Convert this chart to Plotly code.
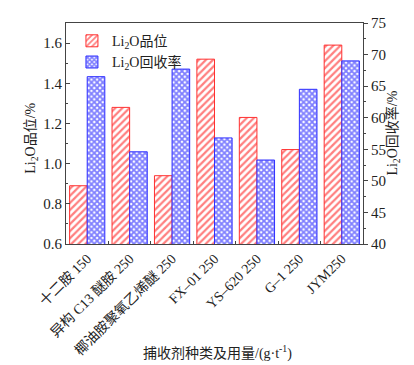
import plotly.graph_objects as go

categories = ["十二胺 150", "异构 C13 醚胺 250", "椰油胺聚氧乙烯醚 250", "FX–01 250",
              "YS–620 250", "G–1 250", "JYM250"]
grade = [0.89, 1.28, 0.94, 1.52, 1.23, 1.07, 1.59]
recovery = [66.5, 54.6, 67.7, 56.8, 53.3, 64.5, 69.0]

FONT = "Liberation Serif, Times New Roman, Noto Sans CJK SC, serif"

fig = go.Figure()
fig.add_trace(go.Bar(
    x=categories, y=grade, name="Li<sub>2</sub>O品位", yaxis="y", offsetgroup="a",
    marker=dict(color="white", line=dict(color="#ff3030", width=1),
                pattern=dict(shape="/", fgcolor="#ff0000", bgcolor="white", size=5, solidity=0.45)),
))
fig.add_trace(go.Bar(
    x=categories, y=recovery, name="Li<sub>2</sub>O回收率", yaxis="y2", offsetgroup="b",
    marker=dict(color="white", line=dict(color="#3030ff", width=1),
                pattern=dict(shape="x", fgcolor="#0000ff", bgcolor="white", size=4, solidity=0.7)),
))

fig.update_layout(
    width=414, height=365,
    margin=dict(l=58, r=59, t=15, b=129),
    paper_bgcolor="white", plot_bgcolor="white",
    font=dict(family=FONT, size=15, color="#222"),
    barmode="group", bargap=0.17, bargroupgap=0,
    showlegend=True,
    legend=dict(x=0.02, y=0.99, xanchor="left", yanchor="top", bgcolor="rgba(0,0,0,0)",
                font=dict(size=14), itemwidth=30, tracegroupgap=0),
    xaxis=dict(showline=True, linecolor="#444", linewidth=1, mirror=True, automargin=False,
               ticks="inside", ticklen=3, tickson="boundaries", tickcolor="#444",
               tickangle=-45, tickfont=dict(size=14)),
    yaxis=dict(range=[0.6, 1.7], dtick=0.2, tickformat=".1f", showline=True, linecolor="#444",
               ticks="inside", ticklen=4, tickcolor="#444", showgrid=False, zeroline=False,
               automargin=False,
               minor=dict(ticks="inside", ticklen=2, dtick=0.1, tickcolor="#444")),
    yaxis2=dict(range=[40, 75], dtick=5, overlaying="y", side="right", showline=True,
                linecolor="#444", ticks="outside", ticklen=4, tickcolor="#444", showgrid=False,
                zeroline=False, automargin=False,
                minor=dict(ticks="outside", ticklen=2, dtick=2.5, tickcolor="#444")),
    annotations=[
        dict(text="捕收剂种类及用量/(g·t<sup>-1</sup>)", xref="paper", yref="paper",
             x=0.51, y=-0.49, xanchor="center", yanchor="middle", showarrow=False,
             font=dict(size=14)),
        dict(text="Li<sub>2</sub>O品位/%", xref="paper", yref="paper",
             x=-0.115, y=0.48, xanchor="center", yanchor="middle", showarrow=False,
             textangle=-90, font=dict(size=14)),
        dict(text="Li<sub>2</sub>O回收率/%", xref="paper", yref="paper",
             x=1.098, y=0.50, xanchor="center", yanchor="middle", showarrow=False,
             textangle=-90, font=dict(size=14)),
    ],
)

fig.write_html("out.html")
